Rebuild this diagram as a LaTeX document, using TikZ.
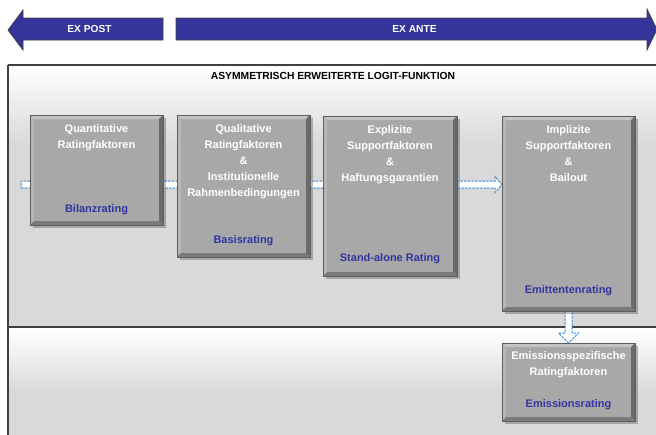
\documentclass[tikz,border=0pt]{standalone}
\usepackage{fontspec}
\setmainfont{Liberation Sans}
\usetikzlibrary{shadows}
\definecolor{boxfill}{HTML}{A8A8A8}
\definecolor{bevlight}{HTML}{C4C4C4}
\definecolor{bevleft}{HTML}{B6B6B6}
\definecolor{bevdark}{HTML}{6A6A6A}
\definecolor{bevbot}{HTML}{7A7A7A}
\definecolor{boxedge}{HTML}{5E5E5E}
\definecolor{labblue}{HTML}{3434A0}
\definecolor{arrblue}{HTML}{34349A}
\definecolor{conblue}{HTML}{2F86D6}
\definecolor{bggray}{HTML}{D9D9D9}
\definecolor{frameline}{HTML}{404040}
\begin{document}
\begin{tikzpicture}[x=1pt,y=-1pt,
  boxst/.style={draw=boxedge, line width=0.8pt, fill=boxfill, inner sep=0pt, outer sep=0pt,
    drop shadow={shadow xshift=2.5pt, shadow yshift=-2.5pt, opacity=0.45, fill=black!60},
    path picture={
      \fill[bevlight] (path picture bounding box.north west) -- (path picture bounding box.north east)
        -- ([xshift=-4pt,yshift=-4pt]path picture bounding box.north east)
        -- ([xshift=4pt,yshift=-4pt]path picture bounding box.north west) -- cycle;
      \fill[bevleft] (path picture bounding box.north west) -- (path picture bounding box.south west)
        -- ([xshift=4pt,yshift=4pt]path picture bounding box.south west)
        -- ([xshift=4pt,yshift=-4pt]path picture bounding box.north west) -- cycle;
      \fill[bevdark] (path picture bounding box.north east) -- (path picture bounding box.south east)
        -- ([xshift=-4pt,yshift=4pt]path picture bounding box.south east)
        -- ([xshift=-4pt,yshift=-4pt]path picture bounding box.north east) -- cycle;
      \fill[bevbot] (path picture bounding box.south west) -- (path picture bounding box.south east)
        -- ([xshift=-4pt,yshift=4pt]path picture bounding box.south east)
        -- ([xshift=4pt,yshift=4pt]path picture bounding box.south west) -- cycle;
    }},
  wtxt/.style={text=white, font=\bfseries\fontsize{11}{16}\selectfont, align=center, inner sep=0pt, anchor=north},
  blab/.style={text=labblue, font=\bfseries\fontsize{11}{13}\selectfont, inner sep=0pt, anchor=base},
  conn/.style={draw=conblue, fill=white, line width=1pt, dash pattern=on 2.5pt off 1.2pt},
  bigarrow/.style={fill=arrblue, draw=frameline, line width=0.7pt},
  arrtxt/.style={text=white, font=\bfseries\fontsize{10.2}{12}\selectfont, inner sep=0pt},
  frame/.style={draw=frameline, line width=1.2pt}
]
\useasboundingbox (0,0) rectangle (656,434);
\fill[white] (0,0) rectangle (656,434);

% background regions
\fill[bggray] (8,65) rectangle (660,327);
\shade[top color=white, bottom color=bggray] (8,65) rectangle (660,145);
\fill[bggray] (8,327) rectangle (660,440);
\shade[top color=white, bottom color=bggray] (8,328) rectangle (660,392);
\draw[frame] (8,65) -- (660,65);
\draw[frame] (8,65) -- (8,440);
\draw[frame] (8,327) -- (660,327);

% top arrows
\draw[bigarrow] (163,18) -- (23,18) -- (23,10) -- (8,30) -- (23,50) -- (23,40) -- (163,40) -- cycle;
\node[arrtxt] (expost) at (89.5,29) {EX POST};
\draw[bigarrow] (176,18) -- (647,18) -- (647,9) -- (657,29.5) -- (647,50) -- (647,40) -- (176,40) -- cycle;
\node[arrtxt] (exante) at (414.5,29) {EX ANTE};

\node[font=\bfseries\fontsize{10.3}{12}\selectfont, inner sep=0pt] (title) at (333,76) {ASYMMETRISCH ERWEITERTE LOGIT-FUNKTION};

% connector end points
\coordinate (ht) at (21,184.5);
\coordinate (b4w) at (502,184.5);
\coordinate (v4) at (568.5,311);
\coordinate (v5) at (568.5,343);

% horizontal connector (behind the boxes)
\draw[conn] ([yshift=-3.5pt]ht) -- ([xshift=-7pt,yshift=-3.5pt]b4w) -- ([xshift=-7pt,yshift=-8pt]b4w)
  -- (b4w) -- ([xshift=-7pt,yshift=8pt]b4w) -- ([xshift=-7pt,yshift=3.5pt]b4w) -- ([yshift=3.5pt]ht) -- cycle;

% vertical connector
\draw[conn] ([xshift=-3.5pt]v4) -- ([xshift=-3.5pt,yshift=10pt]v5) -- ([xshift=-10pt,yshift=10pt]v5)
  -- (v5) -- ([xshift=10pt,yshift=10pt]v5) -- ([xshift=3.5pt,yshift=10pt]v5) -- ([xshift=3.5pt]v4) -- cycle;

% boxes
\node[boxst, minimum width=133pt, minimum height=110pt] (b1) at (96.5,170) {};
\node[boxst, minimum width=133pt, minimum height=142pt] (b2) at (243.5,186) {};
\node[boxst, minimum width=134pt, minimum height=160pt] (b3) at (390,196) {};
\node[boxst, minimum width=133pt, minimum height=195pt] (b4) at (568.5,213.5) {};
\node[boxst, minimum width=133pt, minimum height=78pt] (b5) at (568.5,382) {};

% box texts
\node[wtxt] (b1t) at (96.5,124) {Quantitative\\Ratingfaktoren};
\node[blab] (b1l) at (96.5,212) {Bilanzrating};
\node[wtxt] (b2t) at (243.5,124) {Qualitative\\Ratingfaktoren\\\&\\Institutionelle\\Rahmenbedingungen};
\node[blab] (b2l) at (243.5,243) {Basisrating};
\node[wtxt] (b3t) at (390,125) {Explizite\\Supportfaktoren\\\&\\Haftungsgarantien};
\node[blab] (b3l) at (390,261) {Stand-alone Rating};
\node[wtxt] (b4t) at (568.5,125) {Implizite\\Supportfaktoren\\\&\\Bailout};
\node[blab] (b4l) at (568.5,293) {Emittentenrating};
\node[wtxt] (b5t) at (568.5,351) {Emissionsspezifische\\Ratingfaktoren};
\node[blab] (b5l) at (568.5,407) {Emissionsrating};
\end{tikzpicture}
\end{document}
